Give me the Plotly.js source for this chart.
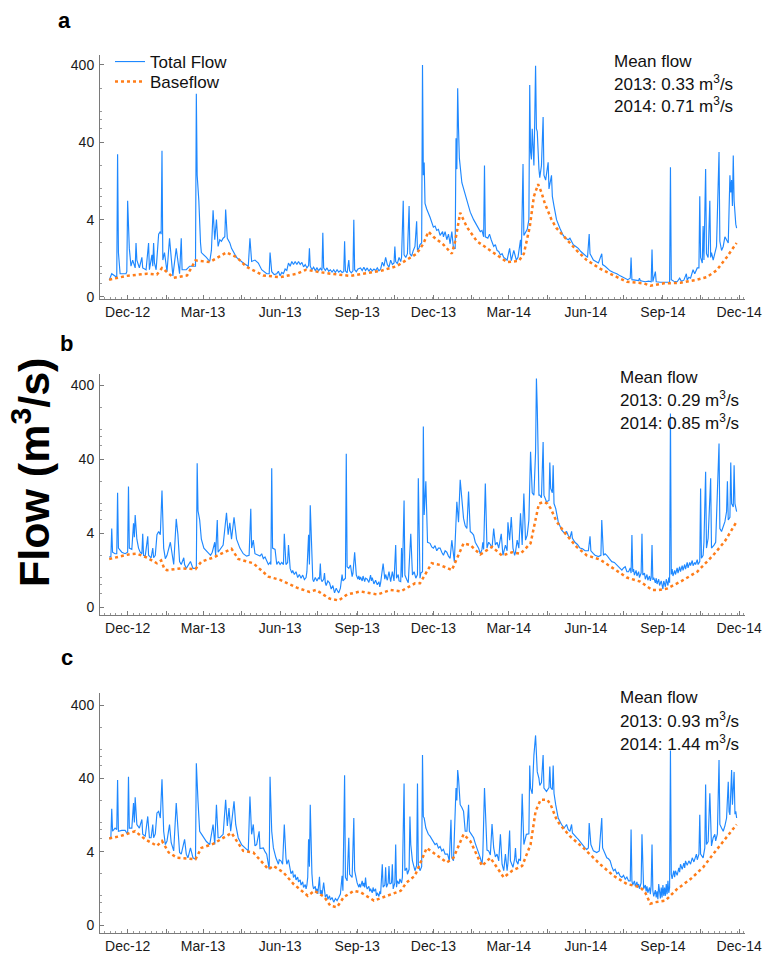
<!DOCTYPE html>
<html>
<head>
<meta charset="utf-8">
<script src="https://cdn.plot.ly/plotly-3.0.1.min.js"></script>
<style>html,body{margin:0;padding:0;background:#fff;}#chart{width:773px;height:959px;}</style>
</head>
<body>
<div id="chart"></div>
<script>
// Day offsets are days since 2012-12-01; values are flow (plotted on a log axis, the "0" tick sits at 0.4)
const xTickDates = ['2012-12-01','2013-01-16','2013-03-01','2013-04-16','2013-06-01','2013-07-16','2013-09-01','2013-10-16','2013-12-01','2014-01-16','2014-03-01','2014-04-16','2014-06-01','2014-07-16','2014-09-01','2014-10-16','2014-12-01'];
const xTickLabels = ['Dec-12','','Mar-13','','Jun-13','','Sep-13','','Dec-13','','Mar-14','','Jun-14','','Sep-14','','Dec-14'];
const yTickVals = [0.4, 4, 40, 400];
const yTickLabels = ['0', '4', '40', '400'];
const yMinorVals = [0.6, 0.8, 1, 2, 6, 8, 10, 20, 60, 80, 100, 200];
const seriesNames = ['Total Flow', 'Baseflow'];
const panelLetters = ['a', 'b', 'c'];
const mean2013 = ['0.33', '0.29', '0.93'];
const mean2014 = ['0.71', '0.85', '1.44'];

const aTotal = [[-22,0.66],[-19,0.8],[-13,0.72],[-12,28],[-11,1.5],[-9,0.8],[-2,0.8],[-1,0.85],[0,7],[1,2.0],[2,1.7],[4,1.0],[6,1.2],[9,0.95],[10,2.0],[11,1.2],[14,0.95],[17,1.3],[18,0.95],[22,0.9],[25,2.0],[26,0.9],[29,1.4],[30,1.0],[31,2.0],[32,1.1],[34,0.9],[37,2.6],[39,2.8],[40,2.6],[41,31],[42,1.2],[44,1.5],[47,0.85],[50,2.3],[52,1.3],[54,0.75],[58,1.7],[60,1.1],[62,0.8],[64,2.3],[65,0.9],[70,0.9],[74,1.0],[81,1.0],[82,170],[83,15],[85,7],[87,2.0],[88,1.5],[94,1.3],[98,1.15],[100,1.6],[102,5.3],[104,2.2],[106,4],[108,1.8],[110,2.2],[112,2.1],[114,2.3],[116,2.4],[117,5.4],[119,2.3],[122,2.0],[124,1.7],[130,1.3],[138,1.1],[144,1.0],[146,2.3],[148,1.15],[152,1.2],[156,1.1],[160,0.9],[166,0.8],[169,0.8],[170,1.5],[172,0.85],[175,0.78],[178,0.8],[180,0.86],[182,0.75],[184,0.83],[186,0.8],[188,0.92],[190,0.88],[192,1.1],[194,1.0],[196,1.15],[198,1.05],[200,1.15],[202,1.05],[204,1.15],[206,1.05],[208,1.12],[210,0.98],[212,1.05],[214,0.95],[216,1.02],[217,1.7],[218,1.0],[220,0.9],[222,0.97],[224,0.88],[226,0.95],[228,0.87],[230,0.94],[232,0.88],[233,2.7],[234,0.95],[236,0.88],[238,0.95],[240,0.86],[242,0.9],[244,0.84],[246,0.9],[248,0.83],[250,0.9],[252,0.84],[254,0.88],[256,0.83],[258,0.85],[259,2.1],[260,0.87],[262,0.82],[264,1.2],[265,0.87],[267,0.82],[269,0.87],[270,4],[271,0.9],[273,0.85],[275,0.92],[278,0.95],[280,0.88],[282,0.97],[284,0.88],[286,0.95],[288,0.86],[290,0.93],[292,0.87],[294,0.92],[296,0.88],[298,0.95],[300,0.87],[302,0.92],[304,1.13],[306,1.0],[308,1.3],[310,1.05],[312,0.97],[314,1.2],[316,1.05],[318,1.1],[319,1.8],[320,1.15],[322,1.08],[324,1.3],[326,1.15],[327,1.3],[329,7],[330,1.4],[332,1.3],[334,1.45],[336,6],[337,1.45],[339,1.35],[341,1.6],[343,1.8],[345,3.8],[346,1.6],[348,1.75],[349,1.9],[351,2.0],[352,400],[353,15],[354,22],[355,6.5],[357,5.5],[361,4.3],[363,3.6],[365,3.2],[367,3.3],[369,2.9],[371,3.0],[373,2.5],[376,2.8],[377,2.4],[379,2.8],[381,2.2],[383,2.6],[385,1.95],[387,2.8],[389,1.7],[391,1.7],[392,45],[393,18],[394,200],[395,60],[396,25],[399,12],[401,10],[405,7.3],[409,5],[413,4],[417,3.3],[419,3.1],[421,2.8],[423,2.9],[425,2.4],[426,20],[427,2.4],[430,2.3],[432,2.6],[434,2.2],[437,1.8],[439,1.9],[441,1.6],[443,1.55],[445,1.4],[447,1.45],[449,1.3],[451,1.25],[453,1.2],[456,1.7],[458,1.18],[461,1.6],[464,1.2],[466,1.3],[469,2.2],[470,1.4],[472,21],[473,2.5],[477,3.0],[479,4],[480,220],[481,30],[482,24],[483,60],[484,25],[485,20],[486,80],[487,390],[488,60],[489,55],[491,18],[492,14],[494,20],[496,85],[497,15],[499,13],[502,22],[503,10],[506,15],[507,8],[509,6],[512,4],[516,3.1],[520,2.5],[523,2.3],[526,2.2],[528,2.3],[532,1.9],[535,1.8],[538,1.7],[541,1.55],[544,1.45],[549,1.3],[551,2.6],[552,1.45],[556,1.2],[559,1.15],[562,1.1],[566,1.45],[567,1.05],[570,1.0],[573,0.93],[576,0.87],[580,0.83],[584,0.8],[588,0.75],[592,0.72],[597,0.67],[600,0.7],[601,1.3],[602,0.67],[606,0.66],[610,0.65],[611,0.7],[612,0.65],[615,0.64],[618,0.63],[622,0.64],[625,0.63],[626,1.65],[627,0.63],[630,0.85],[631,0.63],[636,0.62],[642,0.62],[647,0.62],[648,19],[649,0.67],[652,0.64],[656,0.63],[659,0.7],[661,0.64],[664,0.66],[667,0.8],[668,0.66],[670,0.72],[672,0.7],[675,0.9],[677,0.8],[680,0.95],[682,0.95],[683,8],[684,1.3],[686,1.1],[687,3.3],[688,1.2],[690,18],[691,1.45],[693,1.3],[695,7],[696,1.3],[697,1.5],[699,1.2],[701,1.45],[703,1.8],[706,30],[707,2.1],[709,1.6],[711,1.8],[713,2.4],[715,2.2],[717,2.0],[719,15],[720,9],[721,13],[722,6],[723,27],[724,7],[726,3.5],[727,3.1]];
const aBase = [[-22,0.67],[-1,0.75],[23,0.8],[35,0.78],[41,0.95],[55,0.71],[71,0.76],[81,1.19],[98,1.13],[118,1.51],[130,1.31],[142,0.98],[162,0.76],[182,0.72],[202,0.8],[213,0.9],[229,0.84],[242,0.8],[266,0.75],[282,0.8],[302,0.87],[321,1.0],[333,1.2],[345,1.45],[353,1.95],[359,2.8],[365,2.4],[377,1.9],[387,1.45],[391,2.1],[397,4.9],[405,3.2],[417,2.1],[429,1.7],[441,1.4],[453,1.13],[467,1.17],[473,1.45],[480,3.2],[485,8],[490,11.5],[494,9],[498,6.5],[502,5],[506,4.0],[512,3.1],[524,2.2],[536,1.6],[548,1.2],[564,0.93],[580,0.76],[596,0.63],[616,0.6],[624,0.56],[640,0.6],[660,0.61],[680,0.67],[691,0.72],[703,0.88],[715,1.3],[727,2.0]];

const bTotal = [[-22,1.9],[-20,1.9],[-19,4.6],[-18,2.2],[-15,2.1],[-13,2.1],[-12,14],[-11,2.5],[-7,2.2],[-3,2.1],[0,2.2],[1,17],[2,2.5],[5,2.4],[7,5.4],[8,3.5],[9,7],[11,3.3],[13,2.5],[15,2.2],[17,2.1],[18,3.9],[19,2.0],[21,1.95],[24,3.6],[25,2.0],[26,1.95],[28,1.85],[30,2.5],[31,1.85],[33,2.0],[35,3.8],[37,4.2],[39,3.8],[41,15],[43,2.5],[45,1.8],[47,2.0],[51,3.0],[53,2.0],[55,1.5],[58,6.2],[60,3.8],[62,1.65],[64,1.5],[67,1.85],[68,1.5],[70,1.33],[75,1.65],[78,1.33],[82,1.33],[83,35],[84,8],[86,6],[88,3.3],[91,2.5],[95,2.2],[99,2.0],[101,2.2],[104,3.0],[105,2.0],[107,6],[108,2.2],[112,2.5],[114,2.75],[118,7.5],[120,3.8],[122,5.5],[124,3.3],[127,6.5],[130,3.3],[134,2.5],[138,2.1],[142,1.95],[145,2.0],[147,8.5],[148,2.5],[150,3.2],[152,2.1],[156,2.0],[158,1.95],[160,2.1],[162,1.8],[164,1.9],[166,1.65],[168,1.5],[170,1.6],[171,1.5],[172,30],[173,2.5],[176,2.4],[178,1.5],[180,1.65],[182,1.5],[184,1.6],[186,1.5],[187,3.9],[189,1.5],[191,1.6],[192,2.75],[194,1.33],[196,1.15],[197,1.25],[199,1.1],[201,1.2],[203,1.0],[205,1.1],[207,0.98],[209,1.08],[211,0.94],[213,1.0],[214,1.2],[216,3.8],[217,1.5],[218,9.5],[220,1.2],[221,0.95],[222,0.88],[224,1.0],[226,0.9],[228,1.0],[229,0.95],[230,1.55],[231,0.95],[232,0.88],[234,0.95],[235,1.15],[236,0.85],[237,0.78],[239,0.9],[241,0.85],[243,0.7],[245,0.78],[247,0.62],[249,0.72],[250,0.68],[252,0.62],[254,0.72],[256,1.1],[257,0.9],[260,0.98],[261,47],[262,1.4],[264,1.33],[266,1.48],[268,1.03],[269,1.15],[271,2.2],[273,1.08],[275,0.95],[276,1.05],[277,0.93],[278,1.02],[280,0.9],[281,1.05],[283,0.88],[284,0.98],[286,0.95],[288,0.86],[290,1.08],[291,0.9],[292,1.0],[294,0.82],[296,0.92],[298,0.8],[300,0.88],[301,0.75],[302,0.85],[303,1.0],[305,1.55],[307,0.95],[308,1.1],[310,0.92],[312,1.2],[314,0.88],[316,1.2],[318,0.9],[320,2.75],[321,0.98],[323,1.1],[324,0.9],[326,0.88],[327,2.5],[328,1.0],[330,11],[331,1.08],[333,0.95],[335,0.85],[338,3.9],[340,1.08],[342,1.2],[344,0.98],[346,1.1],[347,22],[349,0.98],[350,1.15],[352,1.2],[353,110],[354,7],[356,20],[358,3.0],[361,2.9],[363,2.6],[365,2.5],[367,2.7],[369,2.3],[371,2.5],[373,2.5],[375,2.2],[377,2.0],[379,2.3],[381,2.2],[383,1.95],[385,1.82],[387,3.2],[389,1.8],[390,1.64],[393,10.6],[395,5.6],[397,21],[398,14.5],[401,6.3],[403,5.0],[405,4.6],[407,14.5],[409,4.2],[411,4.0],[413,3.75],[415,3.0],[417,2.75],[419,2.5],[421,2.1],[423,2.4],[424,3.0],[425,2.4],[427,18.7],[429,2.5],[431,3.0],[433,2.8],[435,2.5],[437,4.6],[439,2.75],[441,3.0],[443,2.5],[446,3.9],[448,2.0],[450,2.4],[451,2.75],[453,2.3],[454,5.6],[456,3.2],[458,6.6],[460,2.5],[462,2.0],[463,2.2],[465,3.2],[467,2.5],[469,7.4],[471,2.75],[473,13.7],[475,3.2],[477,3.75],[479,6],[481,50],[483,14],[485,13],[487,50],[488,490],[489,200],[490,60],[491,13],[492,13],[494,12],[496,68],[497,13],[500,10.6],[503,11],[504,36],[505,16],[507,14],[508,33],[509,10],[511,8.6],[514,5.7],[518,4.4],[522,3.9],[524,4.2],[526,3.7],[528,3.4],[530,4.2],[531,3.4],[534,3.0],[537,2.8],[540,2.5],[543,2.45],[546,2.3],[550,2.3],[552,3.6],[553,2.3],[556,2.1],[558,2.0],[562,1.92],[565,2.0],[566,6],[567,2.3],[568,2.0],[570,2.1],[572,2.0],[575,1.8],[578,1.64],[581,1.6],[584,1.48],[587,1.4],[590,1.26],[592,1.35],[594,1.4],[596,1.2],[598,1.2],[600,1.35],[601,1.15],[602,3.75],[603,1.2],[604,1.3],[605,1.08],[607,1.25],[608,1.05],[610,1.2],[611,1.0],[613,1.15],[614,3.9],[615,1.08],[617,1.15],[618,0.95],[620,1.1],[621,0.92],[623,1.05],[624,0.9],[625,1.0],[626,2.75],[627,0.93],[628,1.0],[630,0.85],[631,0.98],[632,0.82],[634,0.95],[635,0.78],[637,0.9],[639,0.7],[640,0.9],[642,0.75],[643,0.95],[645,0.78],[646,1.0],[647,0.85],[648,165],[649,1.1],[650,1.3],[651,1.05],[653,1.25],[654,1.1],[656,1.35],[657,1.15],[659,1.4],[660,1.2],[662,1.45],[663,1.25],[665,1.5],[666,1.3],[668,1.6],[669,1.35],[671,1.6],[672,1.45],[674,1.7],[675,1.45],[677,1.6],[678,1.5],[680,1.75],[681,1.5],[683,1.64],[684,16],[685,1.82],[687,2.0],[688,3.0],[690,27],[691,2.5],[693,3.4],[696,22],[697,2.5],[700,2.75],[702,3.0],[706,65],[707,4.6],[709,4.2],[711,5.1],[713,5.7],[715,7.8],[716,20],[717,6],[719,6.5],[720,36],[721,10],[723,9],[724,33],[725,10],[727,7.8]];
const bBase = [[-22,1.78],[1,2.05],[11,2.1],[23,1.86],[35,1.56],[40,1.7],[44,1.3],[47,1.26],[63,1.33],[81,1.3],[88,1.64],[102,1.86],[124,2.45],[132,1.78],[150,1.56],[168,1.03],[182,0.93],[202,0.73],[217,0.64],[225,0.68],[241,0.52],[252,0.49],[262,0.59],[278,0.65],[298,0.59],[314,0.68],[326,0.65],[343,0.835],[349,0.835],[363,1.56],[373,1.48],[387,1.26],[401,2.9],[409,2.75],[421,2.05],[435,2.6],[447,1.98],[459,2.2],[469,2.1],[481,2.9],[491,10],[497,10.5],[501,10],[505,8.6],[512,5.7],[524,3.75],[536,2.6],[548,2.0],[564,1.75],[580,1.33],[596,1.0],[612,0.88],[626,0.68],[634,0.68],[644,0.71],[660,0.88],[680,1.2],[699,2.0],[713,3.1],[727,5.7]];

const cTotal = [[-22,6.06],[-20,6.3],[-19,15.4],[-18,7.6],[-15,8.4],[-13,8.0],[-12,38],[-11,7.6],[-7,7.8],[-3,7.8],[0,6.9],[1,42],[2,8.4],[5,8.4],[7,18.4],[8,10],[9,22],[11,9.4],[14,8.4],[17,11],[18,6.9],[21,6.5],[24,12.1],[25,6.8],[26,6.2],[28,6.2],[30,9.4],[31,6.2],[33,7],[35,13.5],[37,14.2],[39,11.5],[41,38.8],[43,7.6],[45,5.0],[47,5.6],[50,9.4],[52,5.3],[55,4.1],[58,18.4],[60,7.6],[62,3.9],[64,3.7],[68,5.9],[70,3.7],[72,3.3],[75,4.5],[78,3.3],[81,3.15],[82,64],[84,19.4],[86,7.6],[88,7],[94,5.5],[98,5.0],[102,9.4],[104,5.0],[106,17.5],[108,6.2],[110,6.2],[114,6.9],[117,20.4],[119,9],[121,15.7],[123,7.6],[127,19.4],[129,9.4],[132,6.2],[136,5.0],[140,4.5],[144,4.1],[146,22.6],[148,6.9],[150,9.4],[152,4.8],[154,5.0],[157,7.6],[158,4.4],[162,4.5],[164,4.0],[166,3.7],[169,2.3],[170,42],[172,7.6],[174,4.5],[177,3.3],[178,3.0],[180,2.7],[181,3.1],[183,3.0],[185,2.7],[187,9.4],[189,3.3],[190,2.7],[192,3.1],[194,2.4],[195,2.0],[197,2.2],[198,1.78],[200,1.95],[201,1.65],[203,1.8],[204,1.55],[206,1.65],[207,1.4],[209,1.55],[210,1.3],[212,1.42],[213,1.24],[214,1.4],[215,1.8],[216,5.9],[217,2.5],[218,17.5],[219,3],[220,2.0],[221,1.4],[222,1.24],[224,1.35],[225,1.1],[226,1.25],[227,1.06],[229,1.82],[230,1.06],[231,1.2],[232,1.0],[234,1.52],[235,1.1],[236,0.96],[238,1.05],[239,0.9],[241,1.0],[242,0.88],[244,0.95],[246,0.82],[248,0.92],[250,0.86],[252,0.95],[254,1.06],[256,1.88],[257,1.17],[259,44],[260,1.78],[262,1.6],[264,6.2],[265,1.97],[268,1.78],[270,11.5],[271,2.2],[273,1.7],[274,1.5],[276,1.31],[277,1.45],[278,1.3],[280,1.6],[281,1.35],[282,1.5],[283,1.3],[284,1.78],[285,1.35],[286,1.24],[288,1.35],[289,1.15],[290,1.25],[292,1.1],[293,1.3],[294,1.15],[296,1.25],[297,1.0],[298,1.1],[300,0.98],[301,1.15],[302,1.06],[304,2.7],[305,1.31],[307,1.4],[308,2.45],[309,1.31],[311,1.5],[312,2.55],[313,1.45],[315,1.5],[316,2.7],[317,1.24],[319,1.5],[320,5.0],[321,1.31],[322,1.6],[324,1.45],[325,1.7],[327,1.5],[328,1.8],[330,34],[331,2.2],[333,2.4],[334,1.97],[336,2.3],[337,12.1],[338,5.0],[340,3.0],[341,2.7],[343,2.2],[345,2.6],[346,34],[347,2.7],[349,2.2],[351,2.5],[352,83],[353,12],[354,11.5],[356,8.4],[359,6.9],[361,6.5],[363,5.9],[365,5.6],[367,5.0],[369,5.2],[371,4.5],[373,4.7],[375,4.1],[377,4.3],[379,3.7],[382,3.7],[384,3.0],[386,10.9],[387,3.3],[389,3.0],[392,29.5],[393,20],[394,52],[395,40],[397,17.5],[399,16],[401,14.2],[403,7.6],[405,7.6],[407,17.5],[408,7.6],[410,7.0],[413,6.2],[415,5.2],[417,4.5],[419,4.0],[421,3.3],[423,2.7],[424,3.6],[426,29.5],[428,5.0],[429,4.2],[431,4.1],[433,3.6],[435,9.5],[437,4.5],[439,3.4],[441,3.7],[443,3.0],[445,6.9],[447,2.7],[449,2.2],[451,3.7],[453,2.2],[454,2.8],[456,7.8],[457,3.0],[459,2.6],[460,2.45],[462,3.2],[463,4.5],[464,3.0],[466,2.7],[467,3.2],[469,3.0],[471,24.6],[473,5.0],[476,6.9],[479,7],[480,60],[481,29.5],[483,24.6],[485,83],[487,154],[489,49],[491,40],[492,32],[494,35],[496,83],[497,29.5],[500,26.5],[503,30],[504,58],[505,30],[507,28],[508,60],[509,25],[511,17.5],[514,11.5],[518,9.4],[521,8.4],[524,9.4],[526,8.0],[528,7.6],[530,9.4],[531,7.2],[534,6.5],[536,6.2],[538,5.9],[540,5.5],[542,5.0],[544,4.8],[546,4.5],[548,4.3],[550,4.5],[551,9.8],[553,5.0],[556,4.1],[558,4.0],[560,3.9],[563,4.1],[566,11.5],[567,4.5],[569,3.9],[572,3.3],[574,3.2],[576,3.0],[578,2.5],[580,2.2],[582,2.3],[584,2.0],[586,2.08],[588,1.85],[590,1.78],[592,1.9],[594,1.69],[596,1.8],[598,1.6],[600,1.6],[601,8.0],[602,1.6],[603,1.4],[605,1.6],[606,1.35],[608,1.55],[609,1.3],[610,1.45],[611,1.25],[613,1.5],[614,6.9],[615,1.45],[616,1.25],[618,1.4],[619,1.15],[620,1.35],[621,1.1],[623,1.3],[624,1.05],[625,1.4],[626,5.0],[627,1.17],[628,0.98],[630,1.2],[631,0.95],[632,1.15],[633,0.9],[634,1.45],[635,1.0],[636,0.92],[637,1.3],[638,0.95],[639,1.4],[640,1.0],[641,1.3],[642,1.0],[643,1.45],[644,1.05],[645,1.6],[646,1.1],[647,1.3],[648,96],[649,1.97],[650,1.7],[652,2.2],[653,1.8],[654,2.2],[656,1.9],[658,2.4],[659,2.1],[660,2.7],[662,2.3],[664,2.8],[665,2.4],[666,3.0],[668,2.6],[670,3.0],[672,2.7],[674,3.3],[676,2.9],[679,3.7],[680,3.1],[682,3.7],[683,12.7],[684,3.7],[687,3.3],[689,4.5],[690,33],[691,5],[693,5.5],[695,25],[696,5.9],[697,4.8],[699,6.2],[701,6.9],[702,5.6],[704,7],[706,71],[707,9.4],[709,8.4],[711,7.6],[713,9],[715,11.5],[717,36],[718,14],[719,12.7],[721,52],[722,17.5],[724,49],[725,13],[726,14.2],[727,11.5]];
const cBase = [[-22,6.06],[-9,6.5],[9,7.6],[21,5.9],[35,4.8],[41,5.6],[49,3.9],[59,3.3],[81,3.15],[88,4.5],[102,5.1],[124,7.2],[138,4.1],[150,3.9],[168,2.3],[174,2.56],[186,2.08],[198,1.45],[215,1.0],[223,1.17],[235,0.96],[242,0.73],[250,0.7],[258,0.96],[270,1.17],[278,1.12],[294,0.86],[310,1.0],[326,1.17],[333,1.52],[343,1.88],[357,4.5],[365,3.9],[381,2.85],[389,3.3],[401,6.9],[409,5.6],[423,2.56],[433,3.3],[449,1.78],[459,2.2],[471,2.56],[481,5.0],[487,14.2],[493,20.4],[501,20.4],[505,17.5],[512,11],[516,9.4],[528,6.5],[544,4.5],[564,2.7],[580,1.88],[596,1.45],[612,1.31],[618,1.1],[624,0.78],[630,0.82],[642,0.86],[656,1.24],[672,1.69],[687,2.45],[699,3.7],[711,5.6],[727,9.4]];

// ---------- build ----------
const T0 = Date.UTC(2012, 11, 1);
function toDate(d) { return new Date(T0 + d * 86400000).toISOString().slice(0, 10); }
function xs(arr) { return arr.map(p => toDate(p[0])); }
function ys(arr) { return arr.map(p => p[1]); }

const H = 959, PL = 100, PW = 645;
const px2x = px => (px - PL) / PW;
const px2y = py => 1 - py / H;

const blue = 'rgb(30,136,255)';
const orange = 'rgb(255,125,25)';

const panels = [
  {tot: aTotal, base: aBase, top: 55, bottom: 299, range: [-0.424, 2.731]},
  {tot: bTotal, base: bBase, top: 374, bottom: 615, range: [-0.506, 2.751]},
  {tot: cTotal, base: cBase, top: 693, bottom: 933, range: [-0.507, 2.766]}
];

const data = [];
panels.forEach((p, i) => {
  const sfx = i === 0 ? '' : String(i + 1);
  data.push({type: 'scatter', mode: 'lines', name: seriesNames[0], x: xs(p.tot), y: ys(p.tot),
    xaxis: 'x' + sfx, yaxis: 'y' + sfx, line: {color: blue, width: 1.15}, showlegend: i === 0, legend: 'legend'});
  data.push({type: 'scatter', mode: 'lines', name: seriesNames[1], x: xs(p.base), y: ys(p.base),
    xaxis: 'x' + sfx, yaxis: 'y' + sfx, line: {color: orange, width: 2.5, dash: 'dot'}, showlegend: i === 0, legend: 'legend2'});
});

const axisColor = '#7a7a7a';
function xAxis(anchor) {
  return {
    type: 'date', range: ['2012-10-29', '2014-12-08'], domain: [0, 1], anchor: anchor,
    tickmode: 'array', tickvals: xTickDates, ticktext: xTickLabels,
    ticks: 'inside', ticklen: 4, tickwidth: 1, tickcolor: axisColor,
    showline: true, linecolor: axisColor, linewidth: 1, showgrid: false, zeroline: false,
    tickfont: {size: 14, color: '#1a1a1a'},
    minor: {tickmode: 'linear', tick0: '2012-12-01', dtick: 7 * 86400000, ticks: 'inside', ticklen: 2, tickcolor: '#999', showgrid: false}
  };
}
function yAxis(p, anchor) {
  return {
    type: 'log', range: p.range, domain: [px2y(p.bottom), px2y(p.top)], anchor: anchor,
    tickmode: 'array', tickvals: yTickVals, ticktext: yTickLabels,
    ticks: 'inside', ticklen: 4, tickwidth: 1, tickcolor: axisColor,
    showline: true, linecolor: axisColor, linewidth: 1, showgrid: false, zeroline: false,
    tickfont: {size: 14, color: '#1a1a1a'}, ticklabelstandoff: 2,
    minor: {tickmode: 'array', tickvals: yMinorVals, ticks: 'inside', ticklen: 2, tickcolor: '#999', showgrid: false}
  };
}

const annotations = [];
const letterPos = [[64, 21], [66, 343], [67, 657]];
const meanPos = [[612, [61, 83, 105]], [618, [377, 399, 422]], [618, [697, 720, 743]]];
panelLetters.forEach((L, i) => {
  annotations.push({xref: 'paper', yref: 'paper', x: px2x(letterPos[i][0]), y: px2y(letterPos[i][1]),
    xanchor: 'center', yanchor: 'middle', showarrow: false, text: '<b>' + L + '</b>', font: {size: 22, color: '#000'}});
  const lines = ['Mean flow', '2013: ' + mean2013[i] + ' m<sup>3</sup>/s', '2014: ' + mean2014[i] + ' m<sup>3</sup>/s'];
  lines.forEach((t, k) => {
    annotations.push({xref: 'paper', yref: 'paper', x: px2x(meanPos[i][0]), y: px2y(meanPos[i][1][k]),
      xanchor: 'left', yanchor: 'middle', showarrow: false, text: t, font: {size: 17, color: '#111'}});
  });
});
annotations.push({xref: 'paper', yref: 'paper', x: px2x(31), y: px2y(473), xanchor: 'center', yanchor: 'middle',
  showarrow: false, textangle: -90, text: '<b>Flow (m<sup>3</sup>/s)</b>', font: {size: 43, color: '#000'}});

const legendCommon = {xanchor: 'left', yanchor: 'top', bgcolor: 'rgba(0,0,0,0)',
  font: {size: 17, color: '#111'}, tracegroupgap: 0, itemwidth: 30};

const layout = {
  width: 773, height: 959,
  margin: {l: 100, r: 28, t: 0, b: 0},
  paper_bgcolor: '#ffffff', plot_bgcolor: '#ffffff',
  font: {family: '"Liberation Sans", Arial, sans-serif', size: 14, color: '#1a1a1a'},
  showlegend: true,
  legend: Object.assign({x: px2x(110), y: px2y(44)}, legendCommon),
  legend2: Object.assign({x: px2x(110), y: px2y(64)}, legendCommon),
  xaxis: xAxis('y'), xaxis2: xAxis('y2'), xaxis3: xAxis('y3'),
  yaxis: yAxis(panels[0], 'x'), yaxis2: yAxis(panels[1], 'x2'), yaxis3: yAxis(panels[2], 'x3'),
  annotations: annotations
};

Plotly.newPlot('chart', data, layout, {displayModeBar: false, staticPlot: true});
</script>
</body>
</html>
